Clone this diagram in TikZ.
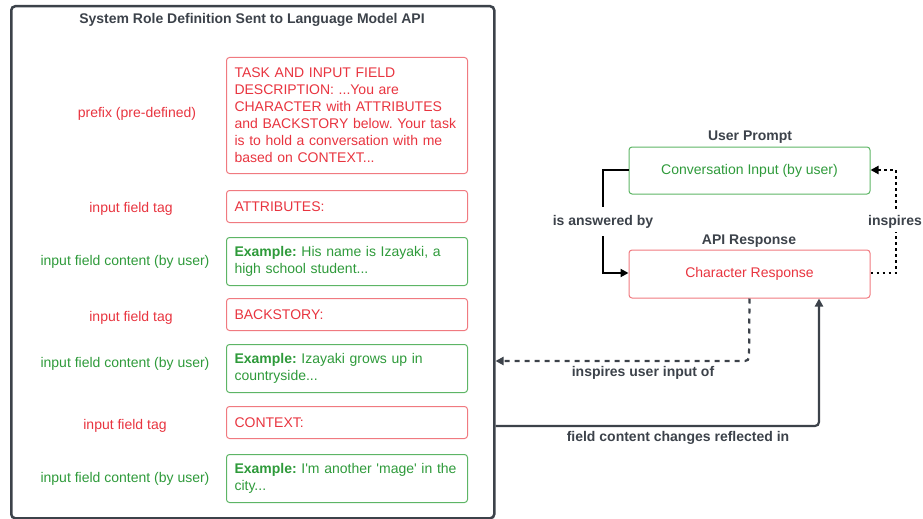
\documentclass[tikz,border=0pt]{standalone}
\usepackage{fontspec}
\setmainfont{Liberation Sans}
\usetikzlibrary{arrows.meta}
\definecolor{dgray}{HTML}{3C424A}
\definecolor{rtext}{HTML}{E8343F}
\definecolor{rline}{HTML}{F07A80}
\definecolor{gtext}{HTML}{2E9A3A}
\definecolor{gline}{HTML}{5DB565}
\frenchspacing
\begin{document}
\begin{tikzpicture}[x=1pt,y=-1pt,
  every node/.style={font=\fontsize{14}{17}\selectfont},
  box/.style={draw, rounded corners=3, line width=1pt, minimum width=241, text width=225, inner xsep=8, inner ysep=4, align=left, anchor=north west},
  redbox/.style={box, draw=rline, text=rtext},
  greenbox/.style={box, draw=gline, text=gtext},
  rlab/.style={text=rtext},
  glab/.style={text=gtext},
  head/.style={font=\fontsize{14}{17}\selectfont\bfseries, text=dgray},
  elab/.style={font=\fontsize{14}{17}\selectfont\bfseries, text=dgray},
  tip/.style={-{Triangle[length=8,width=8]}}
]
\useasboundingbox (0,0) rectangle (923,519);
% frame
\node[draw=dgray, line width=2.5pt, rounded corners=4, minimum width=483, minimum height=512, anchor=north west, inner sep=0] (frame) at (10,5) {};
\node[head] (title) at (252,19.5) {System Role Definition Sent to Language Model API};
% left boxes
\node[redbox, minimum height=116] (b1) at (226,57) {TASK AND INPUT FIELD\\DESCRIPTION: ...You are\\CHARACTER with ATTRIBUTES\\and BACKSTORY below. Your task\\is to hold a conversation with me\\based on CONTEXT...};
\node[redbox, minimum height=32] (b2) at (226,190) {ATTRIBUTES:};
\node[greenbox, minimum height=48] (b3) at (226,237) {\textbf{Example:} His name is Izayaki, a\\high school student...};
\node[redbox, minimum height=32] (b4) at (226,298) {BACKSTORY:};
\node[greenbox, minimum height=48] (b5) at (226,344) {\textbf{Example:} Izayaki grows up in\\countryside...};
\node[redbox, minimum height=32] (b6) at (226,406) {CONTEXT:};
\node[greenbox, minimum height=48] (b7) at (226,454) {\textbf{Example:} I\textquotesingle m another \textquotesingle mage\textquotesingle{} in the\\city...};
% left labels
\node[rlab] (l1) at (137,114) {prefix (pre-defined)};
\node[rlab] (l2) at (131,209) {input field tag};
\node[glab] (l3) at (125,262) {input field content (by user)};
\node[rlab] (l4) at (131,318) {input field tag};
\node[glab] (l5) at (125,364) {input field content (by user)};
\node[rlab] (l6) at (125,426) {input field tag};
\node[glab] (l7) at (125,479) {input field content (by user)};
% right side
\node[head] (up) at (750,137) {User Prompt};
\node[draw=gline, line width=1pt, rounded corners=3, minimum width=241, minimum height=47, text=gtext] (conv) at (749.5,170.5) {Conversation Input (by user)};
\node[head] (ar) at (749,241) {API Response};
\node[draw=rline, line width=1pt, rounded corners=3, minimum width=241, minimum height=48, text=rtext] (char) at (749.5,274) {Character Response};
% is answered by
\coordinate (ab1) at (603,170);
\coordinate (ab2) at (603,273);
\draw[line width=2pt, black] (conv.west |- ab1) -- (ab1) -- (603,207);
\draw[line width=2pt, black, tip] (603,236) -- (ab2) -- (char.west |- ab2);
\node[elab] (lab1) at (603,222) {is answered by};
% inspires (dotted)
\coordinate (in1) at (896,273);
\coordinate (in2) at (896,170);
\draw[line width=2pt, black, dash pattern=on 2.5pt off 3.5pt, tip] (char.east |- in1) -- (in1) -- (in2) -- (conv.east |- in2);
\node[elab, anchor=west, fill=white, inner xsep=1] (lab2) at (867,222) {inspires};
% inspires user input of (dashed)
\coordinate (iu) at (749,361);
\draw[line width=2.2pt, dgray, dash pattern=on 5pt off 5pt, rounded corners=4, tip] (char.south) -- (iu) -- (frame.east |- iu);
\node[elab] (lab3) at (643,373) {inspires user input of};
% field content changes reflected in
\coordinate (fc) at (819,426);
\draw[line width=2.2pt, dgray, rounded corners=4, tip] (frame.east |- fc) -- (fc) -- (char.south -| fc);
\node[elab] (lab4) at (678,438) {field content changes reflected in};
\end{tikzpicture}
\end{document}
